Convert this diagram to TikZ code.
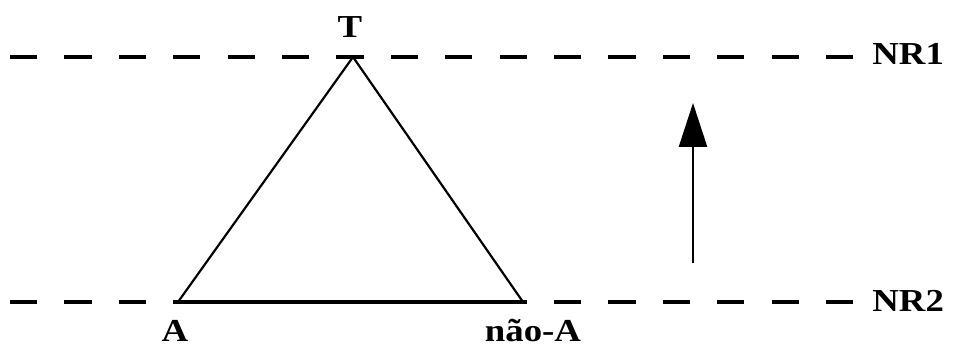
\documentclass[tikz,border=0pt]{standalone}
\usepackage{fontspec}
\setmainfont{Liberation Serif}[FakeStretch=1.15]
\usepackage{tikz}
\usetikzlibrary{arrows.meta}

\begin{document}
\begin{tikzpicture}[x=0.5pt, y=-0.5pt,
  lvl/.style={line width=1.6pt, dash pattern=on 13.6pt off 13.6pt},
  lbl/.style={inner sep=1pt, font=\fontsize{16}{19}\selectfont\bfseries}]
\useasboundingbox (0,0) rectangle (954,347);
\coordinate (s1) at (10,57);
\coordinate (s2) at (10,302);
\coordinate (top) at (353,57);
\coordinate (a) at (178,302);
\coordinate (na) at (523,302);
\coordinate (up0) at (693,263);
\coordinate (up1) at (693,103);
\node[lbl, anchor=base west] (NR1) at (870,65) {NR1};
\node[lbl, anchor=base west] (NR2) at (870,312) {NR2};
\node[lbl, anchor=base] (T) at (350,38) {T};
\node[lbl, anchor=base] (A) at (175,342) {A};
\node[lbl, anchor=base] (nA) at (533,342) {não-A};
\draw[lvl] (s1) -- ([xshift=-2pt]s1 -| NR1.west);
\draw[lvl] (s2) -- ([xshift=-2pt]s2 -| NR2.west);
\draw[line width=1.1pt, line join=miter] (na) -- (top) -- (a);
\draw[line width=1.6pt] (a) -- (na);
\draw[line width=1.3pt, -{Triangle[length=22pt, width=14pt]}] (up0) -- (up1);
\end{tikzpicture}
\end{document}
